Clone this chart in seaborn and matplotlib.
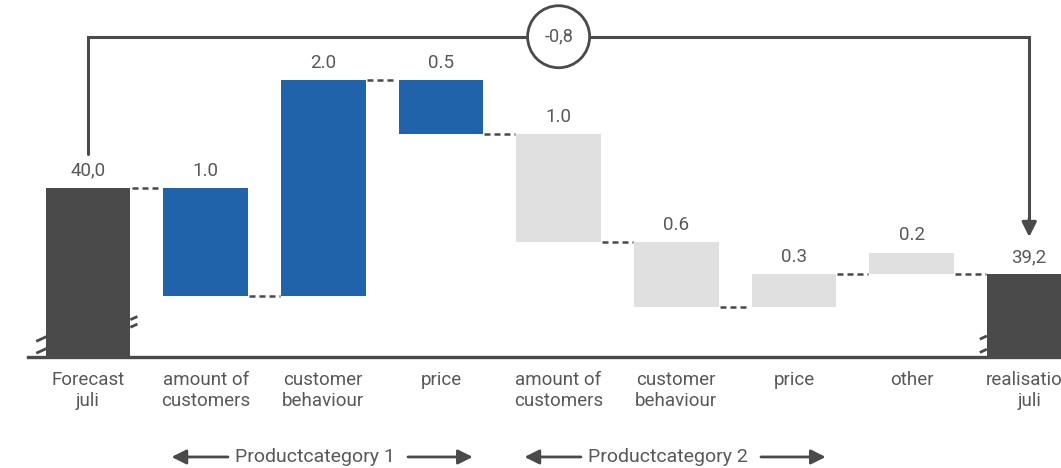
import numpy as np
import pandas as pd
import matplotlib.pyplot as plt
import seaborn as sns
from matplotlib.patches import Ellipse

categories = ["Forecast\njuli", "amount of\ncustomers", "customer\nbehaviour", "price",
              "amount of\ncustomers", "customer\nbehaviour", "price", "other", "realisation\njuli"]
groups = ["total", "pc1", "pc1", "pc1", "pc2", "pc2", "pc2", "pc2", "total"]
start_total = 40.0
deltas = [-1.0, 2.0, -0.5, -1.0, -0.6, 0.3, 0.2]
end_total = 39.2
value_labels = ["40,0", "1.0", "2.0", "0.5", "1.0", "0.6", "0.3", "0.2", "39,2"]
gap_label = "-0,8"
group_labels = ["Productcategory 1", "Productcategory 2"]

palette = {"total": "#4a4a4a", "pc1": "#2163aa", "pc2": "#e1e0e1"}
dark = "#4a4a4a"
txt = "#585858"

sns.set_style("white")
plt.rcParams["font.family"] = ["Roboto", "DejaVu Sans"]

# floating bar ends
levels = start_total + np.cumsum(deltas)
prev = np.concatenate([[start_total], levels[:-1]])
lows = [0.0] + list(np.minimum(prev, levels)) + [0.0]
highs = [start_total] + list(np.maximum(prev, levels)) + [end_total]
conn = [start_total] + list(levels[:-1]) + [end_total]

df = pd.DataFrame({"step": range(len(categories)), "high": highs, "group": groups})

fig = plt.figure(figsize=(10.61, 4.68), dpi=100)
ax = fig.add_axes([28 / 1061, 111 / 468, 1033 / 1061, 357 / 468])

sns.barplot(data=df, x="step", y="high", hue="group", palette=palette, width=0.72,
            saturation=1, dodge=False, legend=False, ax=ax)
for p in ax.patches:
    h = p.get_height()
    if not np.isfinite(h) or h == 0:
        continue
    i = int(round(p.get_x() + p.get_width() / 2))
    p.set_y(lows[i])
    p.set_height(highs[i] - lows[i])
    p.set_linewidth(0)

ax.set_xlim(-0.51, 8.27)
ax.set_ylim(38.435, 41.74)

# connectors
for i, lv in enumerate(conn):
    ax.plot([i + 0.37, i + 0.63], [lv, lv], color=dark, lw=1.8,
            ls=(0, (2.4, 1.6)), zorder=3)

# value labels
for i, lab in enumerate(value_labels):
    ax.text(i, highs[i] + 0.16, lab, ha="center", va="center", fontsize=13.5, color=txt)

# bracket with total difference
top = max(highs) + 0.40
ax.plot([0, 0, 8, 8], [start_total + 0.31, top, top, 39.70], color=dark, lw=2.2,
        solid_joinstyle="miter", zorder=3, clip_on=False)
ax.annotate("", xy=(8, end_total + 0.346), xytext=(8, 39.72),
            arrowprops=dict(arrowstyle="-|>", color=dark, lw=2.2, mutation_scale=22,
                            shrinkA=0, shrinkB=0))
ax.add_patch(Ellipse((4, top), 62 / 117.6, 62 / 108, facecolor="white", edgecolor=dark,
                     lw=2, zorder=5, clip_on=False))
ax.text(4, top, gap_label, ha="center", va="center", fontsize=13, color=txt, zorder=6)

# axis break marks
for x0, x1, ys in [(-0.44, -0.35, [38.47, 38.58]), (0.36, 0.42, [38.71, 38.78]),
                   (7.58, 7.64, [38.477, 38.60])]:
    for y in ys:
        ax.plot([x0, x1], [y, y + 0.04 * (x1 - x0) / 0.08], color=dark, lw=2,
                clip_on=False, zorder=4, solid_capstyle="butt")

# axes styling
sns.despine(ax=ax, left=True)
ax.spines["bottom"].set_linewidth(2.4)
ax.spines["bottom"].set_color(dark)
ax.set_yticks([])
ax.set_xticks(range(len(categories)))
ax.set_xticklabels(categories)
for t in ax.get_xticklabels():
    t.set_linespacing(1.2)
ax.tick_params(axis="x", length=0, pad=10, labelsize=13.5, labelcolor=txt)
ax.set_xlabel("")
ax.set_ylabel("")

# product category ranges
trans = ax.get_xaxis_transform()
yb = -0.28
for gc, lab in zip([1.93, 4.93], group_labels):
    ax.text(gc, yb, lab, transform=trans, ha="center", va="center", fontsize=14, color=txt)
    for a, b in [(gc - 0.74, gc - 1.22), (gc + 0.79, gc + 1.34)]:
        ax.annotate("", xy=(b, yb), xytext=(a, yb), xycoords=trans, textcoords=trans,
                    annotation_clip=False,
                    arrowprops=dict(arrowstyle="-|>", color=dark, lw=2, mutation_scale=22,
                                    shrinkA=0, shrinkB=0))

fig.savefig("out.png", dpi=100)
